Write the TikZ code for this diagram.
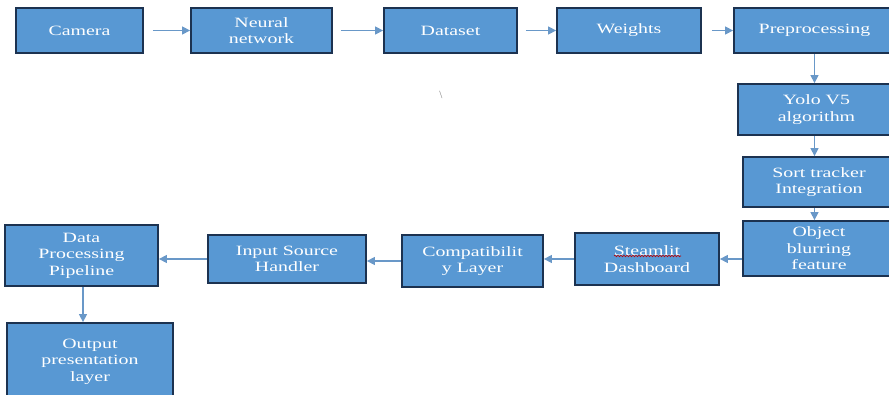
\documentclass[tikz,border=0pt]{standalone}
\usepackage{fontspec}
\setmainfont{Liberation Serif}
\newfontfamily\boxfont{Liberation Serif}[FakeStretch=1.4]
\usetikzlibrary{arrows.meta,decorations.pathmorphing}
\definecolor{boxfill}{RGB}{88,152,211}
\definecolor{boxline}{RGB}{28,50,80}
\definecolor{arrcol}{RGB}{105,152,200}
\begin{document}
\begin{tikzpicture}[x=1pt,y=-1pt,
  blk/.style={draw=boxline,line width=1.8pt,fill=boxfill,text=white,align=center,
    font=\boxfont\fontsize{14.2}{16.5}\selectfont,inner sep=0pt},
  arr/.style={draw=arrcol,line width=1.4pt,-{Triangle[length=8pt,width=8pt]}}]
\path[use as bounding box] (0,0) rectangle (889,395);
\clip (0,0) rectangle (889,395);
% top row
\node[blk,minimum width=127pt,minimum height=45pt] (cam) at (79.5,30.5) {Camera};
\node[blk,minimum width=141pt,minimum height=45pt] (nn) at (261.5,30.5) {Neural\\network};
\node[blk,minimum width=133pt,minimum height=45pt] (ds) at (450.5,30.5) {Dataset};
\node[blk,minimum width=144pt,minimum height=45pt] (wt) at (629,30.5) {Weights};
\node[blk,minimum width=161pt,minimum height=45pt] (pre) at (814.5,30.5) {Preprocessing};
% right column
\node[blk,minimum width=157pt,minimum height=51pt] (yolo) at (816.5,109.5) {Yolo V5\\algorithm};
\node[blk,minimum width=152pt,minimum height=50pt] (sort) at (819,182) {Sort tracker\\Integration};
\node[blk,minimum width=152pt,minimum height=55pt] (obj) at (819,248.5) {Object\\blurring\\feature};
% bottom row
\node[blk,minimum width=144pt,minimum height=52pt] (steam) at (647,259) {Steamlit\\Dashboard};
\node[blk,minimum width=141pt,minimum height=52pt] (comp) at (472.5,261) {Compatibilit\\y Layer};
\node[blk,minimum width=158pt,minimum height=48pt] (inp) at (287,259) {Input Source\\Handler};
\node[blk,minimum width=153pt,minimum height=61pt] (dpp) at (81.5,255.5) {Data\\Processing\\Pipeline};
\node[blk,minimum width=166pt,minimum height=77pt] (out) at (90,361.5) {Output\\presentation\\layer};
% stray mark
\node[text=gray,font=\fontsize{11}{11}\selectfont,inner sep=0pt] (bs) at (441,95) {\textbackslash};
% spell-check underline
\coordinate (ul1) at ([shift={(-33,-3)}]steam.center);
\coordinate (ul2) at ([shift={(34,-3)}]steam.center);
\draw[red!75!black,line width=0.6pt,decorate,decoration={snake,amplitude=0.8pt,segment length=3pt}] (ul1) -- (ul2);
% arrows
\draw[arr] ([xshift=9pt]cam.east) -- (nn.west);
\draw[arr] ([xshift=8pt]nn.east) -- (ds.west);
\draw[arr] ([xshift=8pt]ds.east) -- (wt.west);
\draw[arr] ([xshift=10pt]wt.east) -- (pre.west);
\draw[arr] (pre.south) -- (pre.south |- yolo.north);
\draw[arr] (pre.south |- yolo.south) -- (pre.south |- sort.north);
\draw[arr] (pre.south |- sort.south) -- (pre.south |- obj.north);
\draw[arr] (obj.west |- steam.center) -- (steam.east);
\draw[arr] (steam.west) -- (comp.east |- steam.center);
\draw[arr] (comp.west) -- (inp.east |- comp.center);
\draw[arr] (inp.west) -- (dpp.east |- inp.center);
\draw[arr] (dpp.south -| 83,0) -- (out.north -| 83,0);
\end{tikzpicture}
\end{document}
